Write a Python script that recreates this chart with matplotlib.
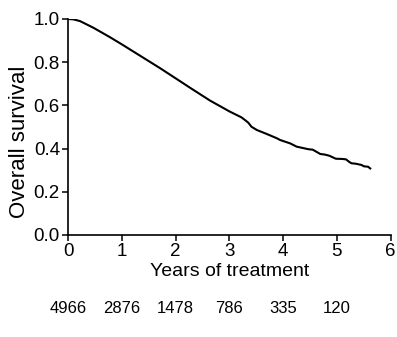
import matplotlib
matplotlib.use("Agg")
import matplotlib.pyplot as plt

plt.rcParams['font.family'] = ['Liberation Sans', 'DejaVu Sans']

years = [0, 0.1, 0.22, 0.47, 0.78, 1.0, 1.71, 2.08, 2.27, 2.64, 3.0, 3.22, 3.29,
         3.35, 3.41, 3.51, 3.69, 3.88, 3.94, 4.13, 4.25, 4.47, 4.55, 4.62, 4.69,
         4.78, 4.87, 4.9, 4.98, 5.1, 5.17, 5.22, 5.27, 5.35, 5.46, 5.5, 5.58, 5.62]
survival = [1.0, 0.998, 0.99, 0.959, 0.915, 0.882, 0.772, 0.712, 0.681, 0.622,
            0.572, 0.545, 0.532, 0.52, 0.501, 0.486, 0.468, 0.448, 0.44, 0.424,
            0.409, 0.397, 0.395, 0.385, 0.375, 0.372, 0.366, 0.362, 0.353, 0.352,
            0.35, 0.34, 0.332, 0.330, 0.324, 0.318, 0.316, 0.308]

at_risk_years = [0, 1, 2, 3, 4, 5]
at_risk = [4966, 2876, 1478, 786, 335, 120]

x_ticks = [0, 1, 2, 3, 4, 5, 6]
y_ticks = [0.0, 0.2, 0.4, 0.6, 0.8, 1.0]

fig = plt.figure(figsize=(3.97, 3.37), dpi=100)
ax = fig.add_axes([0.172, 0.3027, 0.812, 0.641])
ax.plot(years, survival, color='black', lw=1.5)

ax.set_xlim(0, 6)
ax.set_ylim(0, 1.0)
ax.set_xticks(x_ticks)
ax.set_xticklabels([str(t) for t in x_ticks])
ax.set_yticks(y_ticks)
ax.set_yticklabels([f"{t:.1f}" for t in y_ticks])
ax.tick_params(direction='out', length=4, width=1.1, labelsize=13.5, pad=2, color='black')
for s in ['top', 'right']:
    ax.spines[s].set_visible(False)
for s in ['left', 'bottom']:
    ax.spines[s].set_linewidth(1.2)
ax.set_xlabel('Years of treatment', fontsize=14, labelpad=2)
ax.set_ylabel('Overall survival', fontsize=16, va='center')
ax.yaxis.set_label_coords(-0.152, 0.43)

for yr, n in zip(at_risk_years, at_risk):
    ax.text(yr, -0.34, str(n), ha='center', va='center', fontsize=12,
            transform=ax.get_xaxis_transform(), clip_on=False)

fig.savefig('out.png', dpi=100)
